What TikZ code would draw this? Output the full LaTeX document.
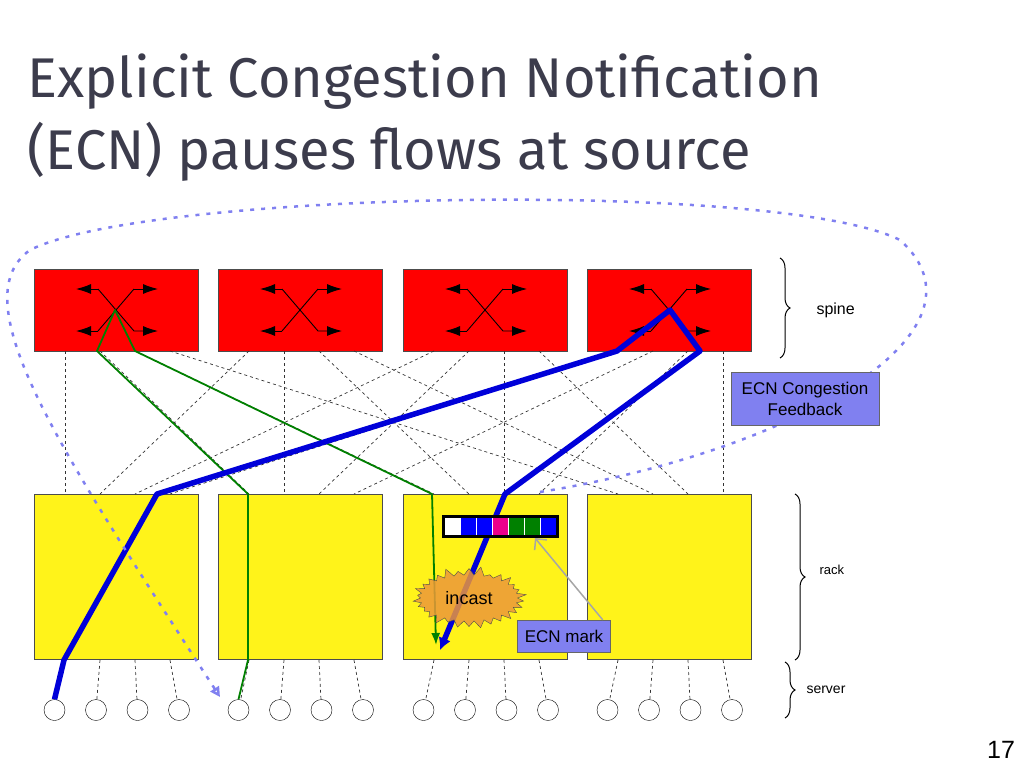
\documentclass[tikz,border=0pt]{standalone}
\usepackage{fontspec}
\setmainfont{Liberation Sans}
\newfontfamily\titlefont{Fira Sans}
\usetikzlibrary{shapes.symbols,decorations.pathreplacing,arrows.meta}
\definecolor{lav}{RGB}{128,128,240}
\definecolor{ttl}{RGB}{60,60,76}
\definecolor{inc}{RGB}{236,152,58}
\begin{document}
\begin{tikzpicture}[x=1pt,y=-1pt,
 spinebox/.style={draw=black!70,fill=red,minimum width=164pt,minimum height=82pt,inner sep=0,anchor=north west},
 rackbox/.style={draw=black!70,fill=yellow!90!white,minimum width=164pt,minimum height=165pt,inner sep=0,anchor=north west},
 srv/.style={draw,circle,minimum size=21pt,inner sep=0},
 link/.style={dashed,black!80,line width=0.7pt},
 sw/.style={line width=0.9pt,-{Latex[length=15pt,width=10pt]}},
 bluep/.style={line width=5.5pt,draw=blue!85!black,line join=round},
 greenp/.style={line width=1.8pt,draw=green!50!black,line join=round},
 lbl/.style={draw=black!60,fill=lav,font=\fontsize{17}{21}\selectfont,align=center},
 cell/.style={minimum width=16pt,minimum height=20pt,inner sep=0,draw=white,line width=0.5pt}]
\useasboundingbox (0,0) rectangle (1024,768);
\node[anchor=north west,font=\titlefont\fontsize{56}{72}\selectfont,align=left,text=ttl] (title) at (24,50) {Explicit Congestion Notification\\(ECN) pauses flows at source};
\foreach \i/\x in {1/34,2/218,3/403,4/587}{
 \node[spinebox] (s\i) at (\x,269) {};
 \draw[sw] (\x+82-18,289) -- (\x+82-40,289);
 \draw[sw] (\x+82-18,289) -- (\x+82+18,331)--(\x+82+42,331);
 \draw[sw] (\x+82-18,331) -- (\x+82-40,331);
 \draw[line width=0.9pt] (\x+82+18,289)--(\x+82-18,331);
 \draw[sw] (\x+82+18,289)--(\x+82+42,289);
 \node[rackbox] (r\i) at (\x,494) {};
}
\foreach \i/\sx in {1/34,2/218,3/403,4/587}{
 \foreach \j/\rx in {1/34,2/218,3/403,4/587}{
  \coordinate (sp\i\j) at (\sx+31+35*\j-35,351);
  \coordinate (rp\j\i) at (\rx+31+35*\i-35,494);
 }}
\foreach \i in {1,...,4}{\foreach \j in {1,...,4}{\draw[link] (sp\i\j)--(rp\j\i);}}
\foreach \r/\rx in {1/34,2/218,3/403,4/587}{
 \foreach \k in {1,...,4}{
  \node[srv] (c\r\k) at (\rx+20+41*\k-41+0.5*\k,710) {};
  \coordinate (rb\r\k) at (\rx+31+35*\k-35,660);
  \draw[link] (rb\r\k)--(c\r\k);
 }}
% paths
\coordinate (g1) at (248,660); \coordinate (g2) at (248,494);\coordinate (g3) at (97,351);\coordinate (g4) at (115,310);\coordinate (g5) at (135,351);\coordinate (g6) at (432,494);\coordinate (g7) at (436,645);
\draw[greenp,-{Latex[length=12pt,width=9pt]}] (c21.north) -- (g1)--(g2)--(g3)--(g4)--(g5)--(g6)--(g7);
\coordinate (b1) at (64,660);\coordinate (b2) at (157,494);\coordinate (b3) at (617,351);\coordinate (b4) at (670,310);\coordinate (b5) at (700,351);\coordinate (b6) at (505,494);\coordinate (b7) at (440,650);
\draw[bluep,-{Latex[length=12pt,width=13pt]}] (c11.north)--(b1)--(b2)--(b3)--(b4)--(b5)--(b6)--(b7);
% queue
\foreach \c [count=\n from 0] in {white,blue,blue,magenta,green!50!black,green!50!black,blue}
 \node[cell,fill=\c] (q\n) at (452+16*\n,526) {};
\draw[line width=3pt] (443,516) rectangle (557,536);
\node[starburst,starburst points=30,starburst point height=9pt,draw=black!70,fill=inc,fill opacity=0.85,text opacity=1,minimum width=115pt,minimum height=64pt,font=\fontsize{18}{20}\selectfont] (inc) at (469,598) {incast};
\node[lbl,minimum width=93pt,minimum height=32pt,inner sep=1pt] (ecn) at (564,636) {ECN mark};
\draw[gray!70,line width=1.5pt,-{Straight Barb[length=8pt]}] ([xshift=-8pt]ecn.north east) -- (535,538);
% feedback
\draw[dash pattern=on 4pt off 7pt,line width=2.5pt,draw=lav,-{Triangle[open,length=10pt,width=10pt]}]
 (540,492) .. controls (800,450) and (1000,330) .. (900,240) .. controls (780,180) and (150,190) .. (30,250) .. controls (-40,300) and (60,450) .. (220,697);
\node[lbl,minimum width=148pt,minimum height=53pt,inner sep=1pt] (fb) at (805,399) {ECN Congestion\\Feedback};
% braces
\draw[line width=1pt,decorate,decoration={brace,amplitude=10pt}] (780,258)--(780,358);
\node[anchor=west,font=\fontsize{16}{19}\selectfont] (lsp) at (813,310) {spine};
\draw[line width=1pt,decorate,decoration={brace,amplitude=10pt}] (795,494)--(795,660);
\node[anchor=west,font=\fontsize{13}{16}\selectfont] (lrk) at (816,570) {rack};
\draw[line width=1pt,decorate,decoration={brace,amplitude=10pt}] (785,662)--(785,718);
\node[anchor=west,font=\fontsize{14}{17}\selectfont] (lsv) at (803,690) {server};
\node[font=\fontsize{25}{27}\selectfont] (pg) at (1001,750) {17};
\end{tikzpicture}
\end{document}
